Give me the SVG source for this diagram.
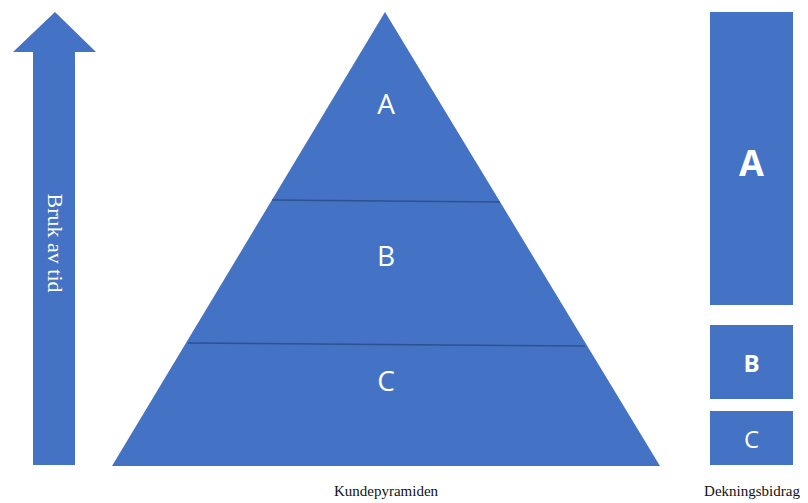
<svg xmlns="http://www.w3.org/2000/svg" width="808" height="503" viewBox="0 0 808 503">
<style>
.shape{fill:#4472C4;}
.sep{stroke:#2F528F;stroke-width:1.5;fill:none;}
.lbl{fill:#ffffff;font-family:"Open Sans","Liberation Sans",sans-serif;text-anchor:middle;dominant-baseline:central;}
.cap{fill:#111111;font-family:"Liberation Serif",serif;font-size:15px;text-anchor:middle;}
</style>
<rect width="808" height="503" fill="#ffffff"/>
<g id="arrow">
<polygon class="shape" points="55,12 96,52 75,52 75,465 33,465 33,52 13,52"/>
<text fill="#ffffff" font-family="Liberation Serif,serif" font-size="22" text-anchor="middle" dominant-baseline="central" transform="translate(55,243) rotate(90)">Bruk av tid</text>
</g>
<g id="pyramid">
<polygon class="shape" points="385,12 660,466 112,466"/>
<text class="lbl" x="386" y="103" font-size="28">A</text>
<text class="lbl" x="386" y="255" font-size="28">B</text>
<text class="lbl" x="386" y="380" font-size="28">C</text>
<text class="cap" x="386" y="496">Kundepyramiden</text>
</g>
<g id="connectors">
<line class="sep" x1="272" y1="200" x2="500" y2="202"/>
<line class="sep" x1="188" y1="343" x2="585" y2="346"/>
</g>
<g id="barA">
<rect class="shape" x="710" y="12" width="83" height="293"/>
<text class="lbl" x="751.5" y="162" font-size="36" font-weight="bold">A</text>
</g>
<g id="barB">
<rect class="shape" x="710" y="325" width="83" height="74"/>
<text class="lbl" x="751.5" y="362" font-size="24" font-weight="bold">B</text>
</g>
<g id="barC">
<rect class="shape" x="710" y="411" width="83" height="54"/>
<text class="lbl" x="751.5" y="438" font-size="24">C</text>
</g>
<text class="cap" x="752" y="496">Dekningsbidrag</text>
</svg>
